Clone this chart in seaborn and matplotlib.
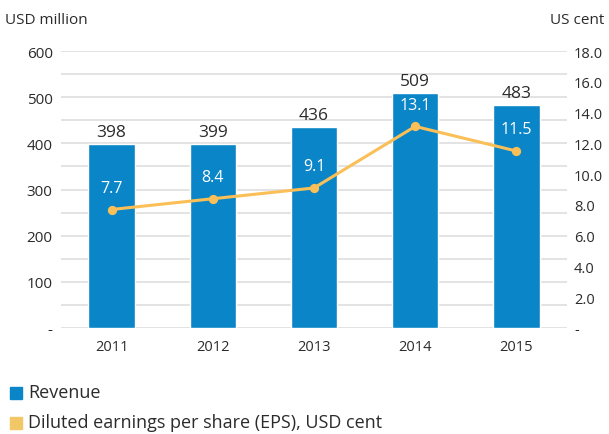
import matplotlib
matplotlib.use('Agg')
import matplotlib.pyplot as plt
import seaborn as sns
from matplotlib.patches import Rectangle

years = ['2011', '2012', '2013', '2014', '2015']
revenue = [398, 399, 436, 509, 483]
eps = [7.7, 8.4, 9.1, 13.1, 11.5]
left_ticks = [0, 100, 200, 300, 400, 500, 600]
right_ticks = [0, 2, 4, 6, 8, 10, 12, 14, 16, 18]

blue = '#0a86c8'
yellow = '#fbbf57'
txt = '#2b2b2b'

sns.set_style('white')
plt.rcParams['font.family'] = ['Open Sans', 'DejaVu Sans']

fig = plt.figure(figsize=(6.09, 4.35), dpi=100, facecolor='white')
ax = fig.add_axes([61/609, (435-329)/435, 506/609, 277/435])

sns.barplot(x=years, y=revenue, color=blue, width=0.46, saturation=1, ax=ax)
ax.set_ylim(0, 600)
ax.set_yticks(range(0, 601, 50))
ax.set_yticklabels([('-' if v == 0 else str(v)) if v in left_ticks else '' for v in range(0, 601, 50)])
ax.grid(axis='y', color='#dedede', linewidth=1.2)
ax.set_axisbelow(True)
for s in ax.spines.values():
    s.set_visible(False)
ax.tick_params(axis='both', length=0, labelsize=11, colors=txt)
ax.tick_params(axis='y', pad=6)
ax.tick_params(axis='x', pad=8, labelsize=10.5)
ax.bar_label(ax.containers[0], labels=[str(v) for v in revenue], padding=3, fontsize=12.5, color=txt)

ax2 = ax.twinx()
sns.pointplot(x=years, y=eps, color=yellow, markers='o', markersize=5, linewidth=2.2, ax=ax2)
ax2.set_ylim(0, 18)
ax2.set_yticks(right_ticks)
ax2.set_yticklabels(['-' if v == 0 else f'{v:.1f}' for v in right_ticks])
ax2.tick_params(axis='y', length=0, labelsize=10.5, colors=txt, pad=5)
for s in ax2.spines.values():
    s.set_visible(False)
ax2.set_ylabel('')
for i, v in enumerate(eps):
    ax2.annotate(f'{v:.1f}', (i, v), xytext=(0, 10), textcoords='offset points',
                 ha='center', va='bottom', color='white', fontsize=11.5)

fig.text(5/609, 1 - 20/435, 'USD million', fontsize=11, color=txt, va='center', ha='left')
fig.text(604/609, 1 - 20/435, 'US cent', fontsize=11, color=txt, va='center', ha='right')

fig.patches.append(Rectangle((10/609, 1 - 400/435), 12/609, 12/435, transform=fig.transFigure, color=blue))
fig.text(28/609, 1 - 393/435, 'Revenue', fontsize=13, color=txt, va='center', ha='left')
fig.patches.append(Rectangle((10/609, 1 - 430/435), 12/609, 12/435, transform=fig.transFigure, color='#f2c867'))
fig.text(28/609, 1 - 423/435, 'Diluted earnings per share (EPS), USD cent', fontsize=13, color=txt, va='center', ha='left')

fig.savefig('out.png', dpi=100, facecolor='white')
